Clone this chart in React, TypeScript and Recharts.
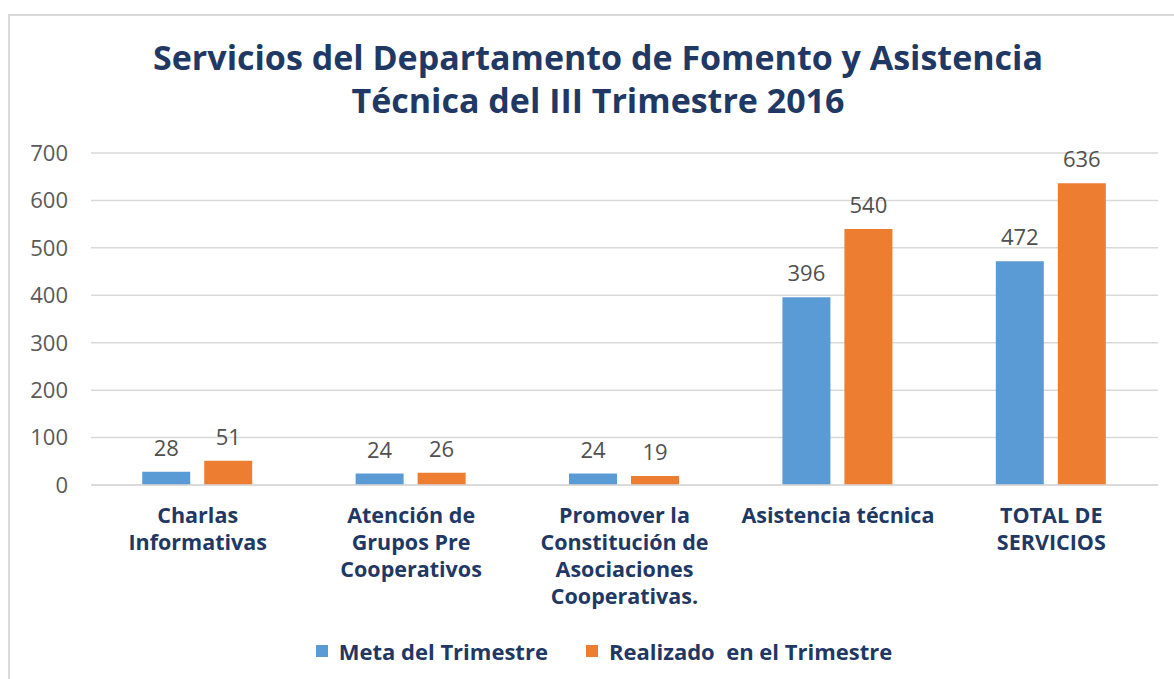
import React from 'react';
import { BarChart, Bar, XAxis, YAxis, CartesianGrid, Legend, LabelList } from 'recharts';

const categories = [
  'Charlas Informativas',
  'Atención de Grupos Pre Cooperativos',
  'Promover la Constitución de Asociaciones Cooperativas.',
  'Asistencia técnica',
  'TOTAL DE SERVICIOS',
];
const categoryLines = [
  ['Charlas', 'Informativas'],
  ['Atención de', 'Grupos Pre', 'Cooperativos'],
  ['Promover la', 'Constitución de', 'Asociaciones', 'Cooperativas.'],
  ['Asistencia técnica'],
  ['TOTAL DE', 'SERVICIOS'],
];
const meta = [28, 24, 24, 396, 472];
const realizado = [51, 26, 19, 540, 636];
const yTicks = [0, 100, 200, 300, 400, 500, 600, 700];

const NAVY = '#1F3864';
const BLUE = '#5B9BD5';
const ORANGE = '#ED7D31';
const FONT = '"Open Sans", Lato, sans-serif';

const data = categories.map((c, i) => ({
  name: c,
  meta: meta[i],
  realizado: realizado[i],
}));

const CategoryTick = (props: any) => {
  const { x, y, payload } = props;
  const lines = categoryLines[payload.index] || [payload.value];
  return (
    <g transform={`translate(${x},${y})`}>
      {lines.map((l: string, i: number) => (
        <text key={i} x={0} y={30 + i * 27} textAnchor="middle" fill={NAVY}
          fontFamily={FONT} fontWeight={700} fontSize={21.5}>{l}</text>
      ))}
    </g>
  );
};

const legendItems = [
  { label: 'Meta del Trimestre', color: BLUE },
  { label: 'Realizado  en el Trimestre', color: ORANGE },
];

const LegendContent = () => (
  <div style={{ display: 'flex', justifyContent: 'center', gap: 38, fontFamily: FONT, height: 30, alignItems: 'center', paddingLeft: 34 }}>
    {legendItems.map(it => (
      <div key={it.label} style={{ display: 'flex', alignItems: 'center' }}>
        <span style={{ width: 12, height: 12, background: it.color, display: 'inline-block', marginRight: 11 }} />
        <span style={{ color: NAVY, fontWeight: 700, fontSize: 22, whiteSpace: 'pre' }}>{it.label}</span>
      </div>
    ))}
  </div>
);

export default function App() {
  return (
    <div style={{ position: 'absolute', left: 0, top: 0, width: 1174, height: 679, background: '#fff', overflow: 'hidden' }}>
      <div style={{ position: 'absolute', left: 8, top: 14, width: 1200, height: 700, borderTop: '2px solid #D9D9D9', borderLeft: '2px solid #D9D9D9' }} />
      <div style={{ position: 'absolute', left: 0, top: 36, width: 1196, textAlign: 'center', color: NAVY, fontFamily: FONT, fontWeight: 700, fontSize: 34, lineHeight: '43px' }}>
        Servicios del Departamento de Fomento y Asistencia<br />Técnica del III Trimestre 2016
      </div>
      <BarChart width={1174} height={679} data={data} barGap={14} barCategoryGap="24%"
        margin={{ top: 153, right: 16, bottom: 44, left: 0 }} style={{ position: 'absolute', left: 0, top: 0 }}>
        <CartesianGrid vertical={false} stroke="#D9D9D9" strokeWidth={1.5} />
        <XAxis dataKey="name" axisLine={{ stroke: '#D9D9D9', strokeWidth: 1.5 }} tickLine={false}
          tick={<CategoryTick />} height={120} interval={0} />
        <YAxis width={91} domain={[0, 700]} ticks={yTicks} axisLine={false} tickLine={false}
          tickSize={0} tickMargin={23} tick={{ fill: '#595959', fontSize: 22, fontFamily: FONT }} />
        <Legend verticalAlign="bottom" content={<LegendContent />}
          wrapperStyle={{ position: 'absolute', top: 636, left: 0, width: 1174, height: 30 }} />
        <Bar dataKey="meta" fill={BLUE} isAnimationActive={false}>
          <LabelList dataKey="meta" position="top" offset={16} fill="#505050" fontSize={22} fontFamily={FONT} />
        </Bar>
        <Bar dataKey="realizado" fill={ORANGE} isAnimationActive={false}>
          <LabelList dataKey="realizado" position="top" offset={16} fill="#505050" fontSize={22} fontFamily={FONT} />
        </Bar>
      </BarChart>
    </div>
  );
}
